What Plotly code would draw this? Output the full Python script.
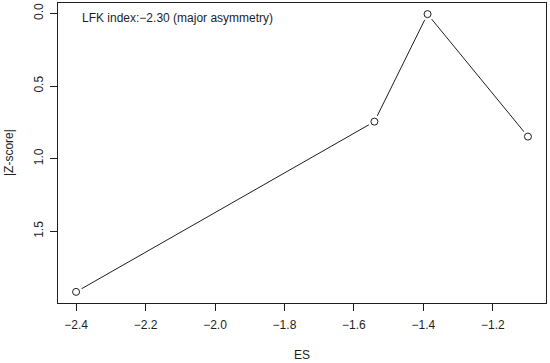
import numpy as np
import plotly.graph_objects as go

es = [-2.40, -1.541, -1.388, -1.099]
zscore = [1.917, 0.745, 0.005, 0.848]
x_ticks = [-2.4, -2.2, -2.0, -1.8, -1.6, -1.4, -1.2]
y_ticks = [0.0, 0.5, 1.0, 1.5]
lfk_text = "LFK index:\u22122.30 (major asymmetry)"

FONT = "Liberation Sans, Arial, Helvetica, sans-serif"
INK = "#1e1e1e"

def rng(v):
    lo, hi = min(v), max(v)
    pad = (hi - lo) * 0.04
    return [lo - pad, hi + pad]

xr = rng(es)
yr = rng(zscore)

fig = go.Figure()
fig.add_trace(go.Scatter(x=es, y=zscore, mode="lines",
                         line=dict(color=INK, width=1), hoverinfo="skip"))
# white discs to create the gaps of R's type="b"
fig.add_trace(go.Scatter(x=es, y=zscore, mode="markers",
                         marker=dict(symbol="circle", size=13, color="white",
                                     line=dict(width=0)), hoverinfo="skip"))
fig.add_trace(go.Scatter(x=es, y=zscore, mode="markers",
                         marker=dict(symbol="circle-open", size=7, color=INK,
                                     line=dict(width=1, color=INK))))

def fmt(v):
    s = f"{v:.1f}"
    return s.replace("-", "\u2212")

fig.update_layout(
    width=550, height=363,
    margin=dict(l=58, r=4, t=3, b=60),
    paper_bgcolor="white", plot_bgcolor="white",
    showlegend=False,
    font=dict(family=FONT, size=12, color=INK),
    xaxis=dict(range=xr, tickvals=x_ticks, ticktext=[fmt(v) for v in x_ticks],
               ticks="outside", ticklen=7, tickwidth=1, tickcolor=INK,
               ticklabelstandoff=4,
               showgrid=False, zeroline=False, showline=True, linecolor=INK,
               linewidth=1, mirror=True,
               tickfont=dict(family=FONT, size=12, color=INK)),
    yaxis=dict(range=[yr[1], yr[0]], tickvals=y_ticks, ticktext=[fmt(v) for v in y_ticks],
               ticks="outside", ticklen=7, tickwidth=1, tickcolor=INK,
               tickangle=-90, ticklabelstandoff=2,
               showgrid=False, zeroline=False, showline=True, linecolor=INK,
               linewidth=1, mirror=True,
               tickfont=dict(family=FONT, size=12, color=INK)),
    annotations=[
        dict(text="ES", xref="paper", yref="paper", x=0.5, y=-0.173,
             showarrow=False, xanchor="center", yanchor="middle",
             font=dict(family=FONT, size=12, color=INK)),
        dict(text="|Z-score|", xref="paper", yref="paper", x=-0.1004, y=0.5,
             showarrow=False, xanchor="center", yanchor="middle", textangle=-90,
             font=dict(family=FONT, size=12, color=INK)),
        dict(text=lfk_text, xref="paper", yref="paper",
             x=(80 - 58) / 488, y=(303 - 18) / 300,
             showarrow=False, xanchor="left", yanchor="middle",
             font=dict(family=FONT, size=12, color=INK)),
    ],
)

fig.write_html("out.html",
               config={"displayModeBar": False, "staticPlot": True},
               post_script="document.body.style.margin='0px';document.body.style.overflow='hidden';")
